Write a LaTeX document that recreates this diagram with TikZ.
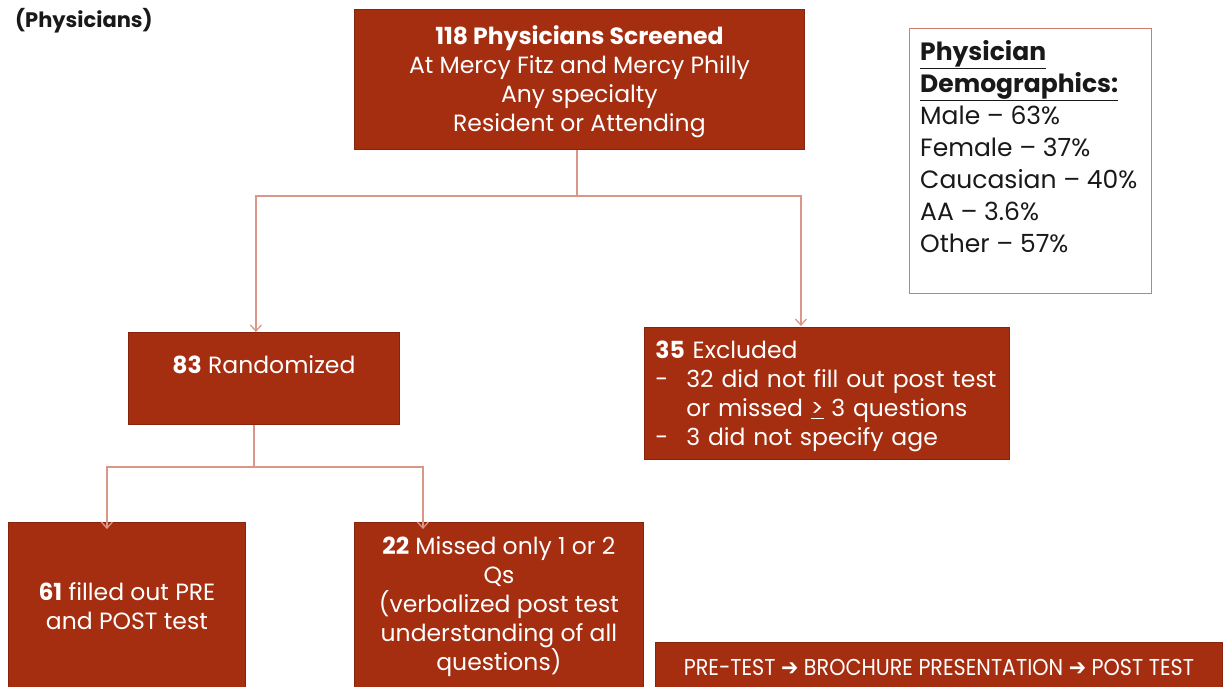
\documentclass[tikz,border=0pt]{standalone}
\usepackage{fontspec}
\usepackage{graphicx}
\setmainfont{Poppins}
\newfontfamily\djv{DejaVu Sans}
\usetikzlibrary{arrows.meta}
\definecolor{rust}{RGB}{165,45,16}
\definecolor{rustborder}{RGB}{135,36,12}
\definecolor{salmon}{RGB}{205,125,105}
\definecolor{connc}{RGB}{218,150,135}
\definecolor{darktxt}{RGB}{25,25,25}
\begin{document}
\begin{tikzpicture}[x=1pt,y=-1pt,
  box/.style={draw=rustborder, line width=0.8pt, fill=rust, text=white, inner sep=0pt,
    anchor=north west, align=center, font=\fontsize{23.5}{29}\selectfont},
  txt/.style={text=white, inner sep=0pt, font=\fontsize{23.5}{29}\selectfont},
  conn/.style={draw=connc, line width=1.3pt},
  arr/.style={-{Straight Barb[length=6pt,width=11pt]}}
]
\useasboundingbox (0,0) rectangle (1228,686);

\node[anchor=west, inner sep=0pt, text=darktxt, font=\fontsize{21}{24}\selectfont\bfseries] (lbl) at (15,21) {(Physicians)};

\node[box, minimum width=450, minimum height=140] (top) at (354,9)
  {\rule{0pt}{24pt}\textbf{118 Physicians Screened}\\At Mercy Fitz and Mercy Philly\\Any specialty\\Resident or Attending};

\node[draw=salmon, line width=1.3pt, fill=white, anchor=north west, minimum width=242, minimum height=265, inner sep=0pt] (demo) at (909,28) {};
\node[anchor=north west, inner sep=0pt, align=left, text=darktxt, font=\fontsize{25}{32}\selectfont] (demotxt) at ([xshift=11pt,yshift=-12pt]demo.north west)
  {\textbf{\underline{Physician}}\\\textbf{\underline{Demographics:}}\\Male – 63\%\\Female – 37\%\\Caucasian – 40\%\\AA – 3.6\%\\Other – 57\%};

\node[box, minimum width=271, minimum height=92] (rand) at (128,332) {};
\node[txt] (randtxt) at ([yshift=-33pt]rand.north) {\textbf{83} Randomized};

\node[box, minimum width=365, minimum height=132, align=left, inner xsep=11pt, text width=343pt] (excl) at (644,327)
  {\rule{0pt}{24pt}\textbf{35} Excluded\\
   \makebox[31pt][l]{-}32 did not fill out post test\\
   \hspace*{31pt}or missed \underline{>} 3 questions\\
   \makebox[31pt][l]{-}3 did not specify age};

\node[box, minimum width=237, minimum height=168] (sixty) at (8,522)
  {\textbf{61} filled out PRE\\and POST test};

\node[box, minimum width=289, minimum height=168] (twenty) at (354,522)
  {\textbf{22} Missed only 1 or 2\\Qs\\(verbalized post test\\understanding of all\\questions)};

\node[box, minimum width=567, minimum height=50, font=\fontsize{23}{26}\selectfont] (proc) at (655,642)
  {\scalebox{0.9}[1]{PRE-TEST {\djv\bfseries ➔} BROCHURE PRESENTATION {\djv\bfseries ➔} POST TEST}};

% connectors
\coordinate (j1) at (577,196);
\coordinate (j2) at (254,467);
\draw[conn] (top.south -| j1) -- (j1);
\draw[conn, arr] (j1) -| ([xshift=-8pt]rand.north);
\draw[conn, arr] (j1) -| ([xshift=-26pt,yshift=1pt]excl.north);
\draw[conn] (rand.south -| j2) -- (j2);
\draw[conn, arr] (j2) -| ([xshift=-20pt,yshift=-7pt]sixty.north);
\draw[conn, arr] (j2) -| ([xshift=-76pt,yshift=-7pt]twenty.north);
\end{tikzpicture}
\end{document}
